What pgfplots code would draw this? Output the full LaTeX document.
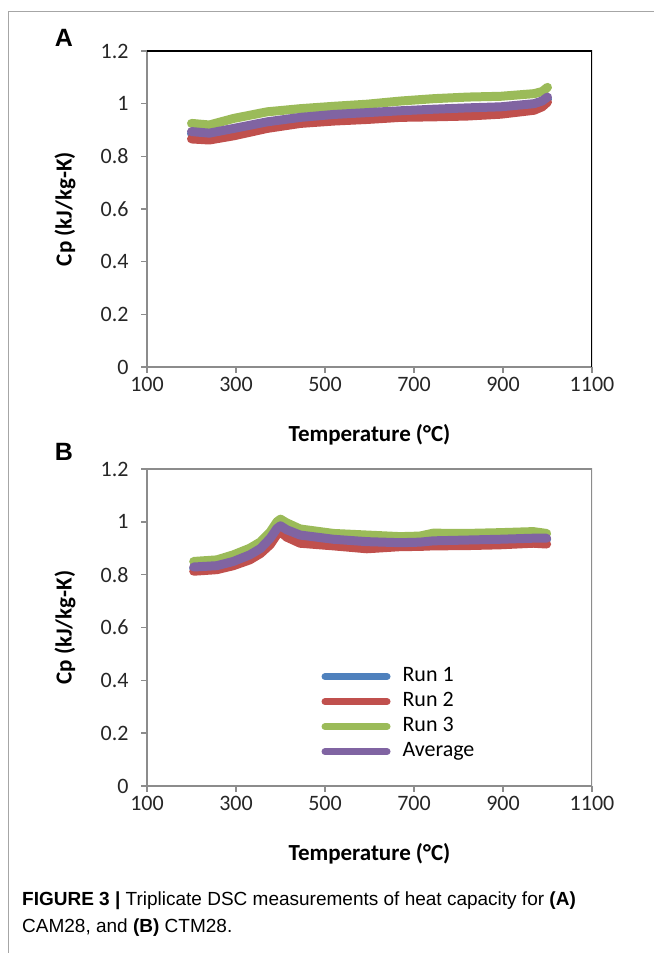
\documentclass[border=0pt]{standalone}
\usepackage{pgfplots}
\pgfplotsset{compat=1.18}
\usepackage{pgfplotstable}
\usepackage{fontspec}
\setmainfont{Carlito}
\newfontfamily\arialfont{Liberation Sans}

\definecolor{runone}{HTML}{4F81BD}
\definecolor{runtwo}{HTML}{C0504D}
\definecolor{runthree}{HTML}{9BBB59}
\definecolor{runavg}{HTML}{8064A2}
\definecolor{spine}{HTML}{8C8C8C}

% panel A: CAM28
\pgfplotstableread{
T     r1     r2     r3     avg
200   0.886  0.866  0.925  0.894
240   0.880  0.862  0.919  0.888
295   0.898  0.878  0.944  0.906
370   0.923  0.906  0.969  0.931
445   0.940  0.925  0.981  0.948
520   0.951  0.934  0.990  0.959
595   0.958  0.940  0.998  0.966
670   0.965  0.948  1.010  0.973
745   0.972  0.950  1.019  0.979
820   0.977  0.953  1.025  0.984
895   0.980  0.960  1.028  0.988
970   0.992  0.975  1.038  1.000
988   1.002  0.988  1.046  1.010
1000  1.018  1.006  1.062  1.025
}\tableA

% panel B: CTM28
\pgfplotstableread{
T     r1     r2     r3     avg
205   0.823  0.813  0.850  0.829
257   0.829  0.819  0.856  0.834
294   0.844  0.834  0.875  0.850
331   0.868  0.856  0.900  0.875
355   0.892  0.880  0.924  0.899
377   0.930  0.914  0.962  0.938
392   0.968  0.952  1.000  0.975
400   0.980  0.962  1.010  0.985
414   0.966  0.942  0.996  0.970
444   0.946  0.919  0.973  0.950
519   0.930  0.909  0.956  0.934
594   0.921  0.898  0.950  0.925
669   0.917  0.906  0.944  0.921
713   0.919  0.907  0.946  0.923
743   0.923  0.909  0.957  0.928
818   0.927  0.910  0.956  0.931
893   0.930  0.913  0.959  0.934
968   0.934  0.919  0.963  0.938
998   0.934  0.916  0.956  0.938
}\tableB

\pgfplotsset{
  cpstyle/.style={
    scale only axis, width=445pt, height=316pt,
    anchor=south west,
    xmin=100, xmax=1100, ymin=0, ymax=1.2,
    xtick={100,300,500,700,900,1100},
    ytick={0,0.2,0.4,0.6,0.8,1,1.2},
    axis lines*=left,
    axis line style={spine, line width=2.4pt},
    tick align=outside,
    major tick length=6pt,
    tick style={spine, line width=1.6pt},
    /pgf/number format/assume math mode=true,
    /pgf/number format/1000 sep={},
    ticklabel style={font=\fontsize{22}{26}\selectfont, text=black!85},
    yticklabel style={xshift=-9pt},
    xticklabel style={yshift=-1pt},
    xlabel={Temperature (°C)},
    ylabel={Cp (kJ/kg-K)},
    label style={font=\fontsize{23}{27}\selectfont\bfseries},
    xlabel style={at={(axis description cs:0.5,-0.215)}, anchor=center},
    ylabel style={at={(axis description cs:-0.184,0.5)}, anchor=center},
    every axis plot/.append style={line width=9pt, line cap=round, line join=round},
  },
}

\begin{document}
\begin{tikzpicture}[x=1pt,y=1pt]
\path[use as bounding box] (0,0) rectangle (654,953);
% figure frame
\draw[gray!70, line width=1pt] (8,0) -- (8,941) -- (654,941);

% panel A
\begin{axis}[cpstyle, at={(147pt,586pt)}]
\addplot[runone] table[x=T, y=r1] {\tableA};
\addplot[runtwo] table[x=T, y=r2] {\tableA};
\addplot[runthree] table[x=T, y=r3] {\tableA};
\addplot[runavg] table[x=T, y=avg] {\tableA};
\draw[black, line width=2pt] (rel axis cs:0,1) -- (rel axis cs:1,1) -- (rel axis cs:1,0);
\end{axis}

% panel B
\begin{axis}[cpstyle, at={(147pt,167pt)}, height=317pt,
  legend cell align=left,
  legend style={draw=none, fill=none, at={(axis description cs:0.385,0.39)}, anchor=north west,
    font=\fontsize{22}{26}\selectfont, row sep=1pt,
    nodes={inner xsep=12pt, inner ysep=2pt, text height=15pt, text depth=5pt}},
  legend image code/.code={\draw[#1, line width=7pt, line cap=round] (0pt,0pt) -- (62pt,0pt);},
]
\addplot[runone] table[x=T, y=r1] {\tableB};
\addplot[runtwo] table[x=T, y=r2] {\tableB};
\addplot[runthree] table[x=T, y=r3] {\tableB};
\addplot[runavg] table[x=T, y=avg] {\tableB};
\legend{Run 1, Run 2, Run 3, Average}
\draw[spine, line width=2pt] (rel axis cs:0,1) -- (rel axis cs:1,1) -- (rel axis cs:1,0);
\end{axis}

% panel letters
\node[font=\arialfont\fontsize{25}{28}\selectfont\bfseries] at (64,915) {A};
\node[font=\arialfont\fontsize{25}{28}\selectfont\bfseries] at (64,501) {B};

% caption
\node[anchor=base west, font=\arialfont\fontsize{19}{22}\selectfont, inner sep=0pt] at (22,47)
  {\textbf{FIGURE 3 |} Triplicate DSC measurements of heat capacity for \textbf{(A)}};
\node[anchor=base west, font=\arialfont\fontsize{19}{22}\selectfont, inner sep=0pt] at (22,20)
  {CAM28, and \textbf{(B)} CTM28.};
\end{tikzpicture}
\end{document}
